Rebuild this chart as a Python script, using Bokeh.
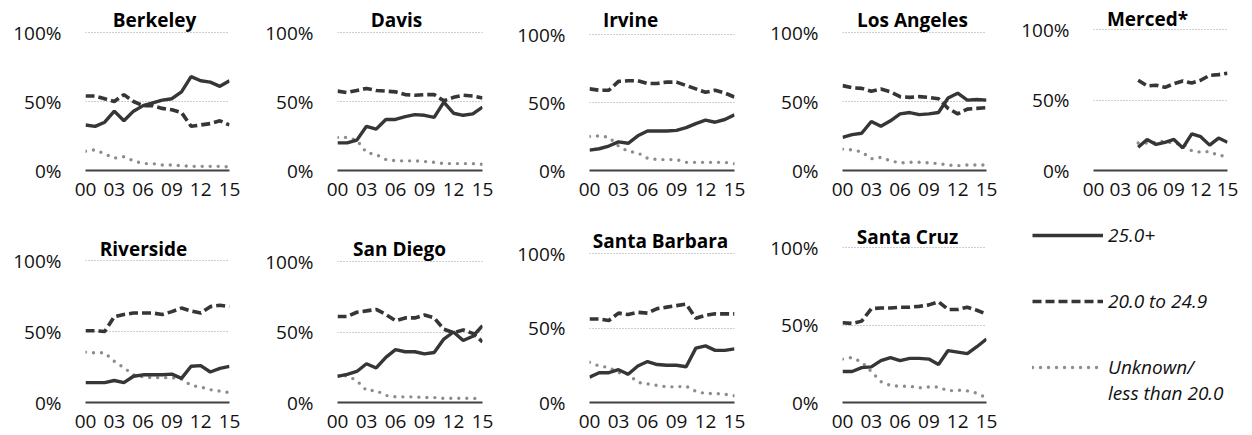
from bokeh.plotting import figure
from bokeh.layouts import row, column
from bokeh.models import Range1d, FixedTicker, PrintfTickFormatter, Label, Legend, LegendItem
from bokeh.embed import file_html
from bokeh.resources import INLINE

NaN = float("nan")

# ---------------- data ----------------
years = list(range(2000, 2016))
tick_years = [2000, 2003, 2006, 2009, 2012, 2015]
tick_labels = ["00", "03", "06", "09", "12", "15"]
series_names = ["25.0+", "20.0 to 24.9", "Unknown/", "less than 20.0"]
campuses = ["Berkeley", "Davis", "Irvine", "Los Angeles", "Merced*",
            "Riverside", "San Diego", "Santa Barbara", "Santa Cruz"]

berkeley_25 = [33, 32, 35, 43, 36, 43, 47, 49, 51, 52, 57, 68, 65, 64, 61, 65]
berkeley_20 = [54, 54, 52, 50, 55, 50, 47, 47, 45, 44, 42, 32, 33, 34, 36, 33]
berkeley_unk = [14, 15, 12, 9, 10, 7, 5, 5, 4, 4, 3.5, 3, 3, 3, 3, 2.5]

davis_25 = [20, 20, 22, 32, 30, 37, 37, 39, 40.5, 40, 38.5, 49.5, 41.5, 40, 41, 46]
davis_20 = [57.5, 56.5, 58, 59.5, 58, 57.5, 57, 55, 54.5, 55, 55, 50.5, 53, 54.5, 54, 52.5]
davis_unk = [24, 24, 22, 13, 11.5, 8, 7, 7, 7, 6.5, 6, 5, 5, 5, 5, 4.5]

irvine_25 = [15, 16, 18, 21, 20, 25.5, 29, 29, 29, 29.5, 31.5, 34.5, 37, 35.5, 37.5, 41]
irvine_20 = [60, 59, 59, 65.5, 66, 66, 64, 64, 65, 65, 62.5, 60, 57.5, 59, 57, 54]
irvine_unk = [25, 25.5, 24.5, 18, 14, 13, 9, 8, 8, 8, 6, 6, 6, 6, 6, 5]

la_25 = [24, 26, 27, 35.5, 32, 36, 41, 42, 40.5, 41, 42, 52.5, 56, 51, 51.5, 51]
la_20 = [61.5, 60, 59.5, 57.5, 59, 57, 53.5, 53, 53.5, 53, 52, 45, 41, 44.5, 45, 45.5]
la_unk = [15.5, 15, 13.5, 8.5, 9.5, 7, 5.5, 6, 6, 5.5, 5, 4, 3.5, 4, 4, 4]

merced_25 = [NaN, NaN, NaN, NaN, NaN, 16.5, 22, 18.5, 20, 22, 16, 26, 24, 18, 23, 20]
merced_20 = [NaN, NaN, NaN, NaN, NaN, 64, 60, 60.5, 59, 61.5, 63.5, 62, 64, 67.5, 68, 69]
merced_unk = [NaN, NaN, NaN, NaN, NaN, 19.5, 19.5, 20, 21, 19, 19, 14, 13, 13.5, 10.5, 10.5]

riverside_25 = [14, 14, 14, 15.5, 14, 18.5, 19.5, 19.5, 19.5, 20, 17, 25.5, 26, 21.5, 24, 25.5]
riverside_20 = [50.5, 50.5, 50, 60.5, 62, 63, 63, 63, 62, 64, 66.5, 64.5, 63, 67.5, 68.5, 67.5]
riverside_unk = [35.5, 35, 35, 29, 24.5, 19.5, 18, 17.5, 17.5, 17.5, 16.5, 12, 11, 9, 8, 7]

sandiego_25 = [18.5, 20, 22, 27.5, 24.5, 32, 37.5, 36, 36, 34.5, 35.5, 45, 50, 44, 47, 54.5]
sandiego_20 = [61, 61, 64, 65, 66, 62.5, 58, 60, 60, 62, 60, 52, 49.5, 51.5, 49, 43]
sandiego_unk = [19, 19, 15.5, 8.5, 8.5, 5, 4, 4, 4, 3.5, 3.5, 3, 3, 3, 3, 2.5]

santabarbara_25 = [17, 20, 20, 22, 19, 24.5, 27.5, 25.5, 25, 25, 24, 36.5, 38, 35, 35, 36]
santabarbara_20 = [56, 56, 55, 60, 59, 60.5, 60, 63, 64, 65, 66, 56.5, 58.5, 59.5, 59.5, 59.5]
santabarbara_unk = [27, 24.5, 23.5, 20, 19, 13.5, 12.5, 11.5, 10.5, 10.5, 11, 7.5, 6, 6, 5.5, 4.5]

santacruz_25 = [20, 20, 22.5, 23, 27, 29, 27, 28.5, 28.5, 28, 24.5, 33.5, 32.5, 31.5, 36, 41]
santacruz_20 = [51.5, 51, 52.5, 60.5, 61, 61, 61.5, 61.5, 62, 63, 65, 60, 60, 61.5, 59.5, 57]
santacruz_unk = [28, 29, 26, 20, 13.5, 11, 10.5, 10.5, 9.5, 10, 10, 7.5, 8, 7.5, 6, 3]

panel_data = [
    (berkeley_25, berkeley_20, berkeley_unk),
    (davis_25, davis_20, davis_unk),
    (irvine_25, irvine_20, irvine_unk),
    (la_25, la_20, la_unk),
    (merced_25, merced_20, merced_unk),
    (riverside_25, riverside_20, riverside_unk),
    (sandiego_25, sandiego_20, sandiego_unk),
    (santabarbara_25, santabarbara_20, santabarbara_unk),
    (santacruz_25, santacruz_20, santacruz_unk),
]

# ---------------- layout (page pixels) ----------------
COL_X = [0, 252, 504, 756, 1008]
COL_W = [252, 252, 252, 252, 244]
COL_FRAME_L = [85, 337, 589, 842, 1093]
COL_FRAME_R = [229, 482, 734, 986, 1227]
ROW_Y = [0, 215]
ROW_H = [215, 220]
ROW_FRAME_TOP = [2, 222]
ROW_FRAME_BOTTOM = [170, 402]
# per panel: y of the 100% line, title centre y, title centre x
PANEL_POS = [
    (32, 19, 154), (32, 19, 396), (34, 19, 630), (32, 19, 912), (29, 18, 1147),
    (260, 248, 143), (261, 248, 399), (253, 240, 660), (247, 236, 907),
]

FONT = "Open Sans"
DARK = "#363636"
GREY = "#8c8c8c"
SOLID = dict(line_color=DARK, line_width=3.4)
DASHED = dict(line_color=DARK, line_width=3.6, line_dash="9 4")
DOTTED = dict(line_color=GREY, line_width=3.4, line_dash="0 8", line_cap="round")


def make_panel(i):
    r, c = divmod(i, 5)
    P100, Ty, Tx = PANEL_POS[i]
    L, R = COL_FRAME_L[c], COL_FRAME_R[c]
    fx, fw, fy, fh = COL_X[c], COL_W[c], ROW_Y[r], ROW_H[r]
    ftop, P0 = ROW_FRAME_TOP[r], ROW_FRAME_BOTTOM[r]
    y_end = 100.0 * (P0 - ftop) / (P0 - P100)
    p = figure(width=fw, height=fh,
               x_range=Range1d(years[0], years[-1]), y_range=Range1d(0, y_end),
               min_border_left=L - fx, min_border_right=fx + fw - R,
               min_border_top=ftop - fy, min_border_bottom=fy + fh - P0,
               output_backend="svg", toolbar_location=None,
               outline_line_color=None, background_fill_color=None,
               border_fill_color=None)
    s25, s20, sunk = panel_data[i]
    p.line(years, sunk, **DOTTED)
    p.line(years, s20, **DASHED)
    p.line(years, s25, **SOLID)

    # y axis
    ya = p.yaxis[0]
    ya.ticker = FixedTicker(ticks=[0, 50, 100])
    ya.formatter = PrintfTickFormatter(format="%d%%")
    ya.axis_line_color = None
    ya.major_tick_line_color = None
    ya.minor_tick_line_color = None
    ya.major_tick_out = 0
    ya.major_tick_in = 0
    ya.major_label_standoff = 24
    ya.major_label_text_font = FONT
    ya.major_label_text_font_size = "19px"
    ya.major_label_text_color = "#111111"

    # x axis
    xa = p.xaxis[0]
    xa.ticker = FixedTicker(ticks=tick_years)
    xa.major_label_overrides = {y: t for y, t in zip(tick_years, tick_labels)}
    xa.axis_line_color = "#404040"
    xa.axis_line_width = 2
    xa.major_tick_line_color = None
    xa.minor_tick_line_color = None
    xa.major_tick_out = 0
    xa.major_tick_in = 0
    xa.major_label_standoff = 12
    xa.major_label_text_font = FONT
    xa.major_label_text_font_size = "19px"
    xa.major_label_text_color = "#111111"

    p.xgrid.visible = False
    p.ygrid.ticker = FixedTicker(ticks=[50, 100])
    p.ygrid.grid_line_color = "#9a9a9a"
    p.ygrid.grid_line_dash = "1 2"
    p.ygrid.grid_line_width = 1

    tx = years[0] + (Tx - L) / (R - L) * (years[-1] - years[0])
    ty = 100.0 * (P0 - Ty) / (P0 - P100)
    p.add_layout(Label(x=tx, y=ty, text=campuses[i], text_align="center",
                       text_baseline="middle", text_font=FONT, text_font_style="bold",
                       text_font_size="19px", text_color="#000000"))
    return p


panels = [make_panel(i) for i in range(9)]

# legend panel: sample lines reuse a series but sit outside the visible range;
# blank spacer rows keep the item rows on a grid anchored at the top
lg = figure(width=COL_W[4], height=ROW_H[1], x_range=Range1d(0, 1), y_range=Range1d(0, 1),
            min_border_left=24, min_border_top=ROW_FRAME_TOP[1] - ROW_Y[1],
            min_border_right=0, min_border_bottom=0,
            output_backend="svg", toolbar_location=None, outline_line_color=None,
            background_fill_color=None, border_fill_color=None)
lg.axis.visible = False
lg.grid.visible = False
r1 = lg.line(years, santacruz_25, **SOLID)
r2 = lg.line(years, santacruz_20, **DASHED)
r3 = lg.line(years, santacruz_unk, **DOTTED)
rs = lg.line(years, santacruz_unk, line_alpha=0)
items = [
    LegendItem(label=series_names[0], renderers=[r1]),
    LegendItem(label=" ", renderers=[rs]),
    LegendItem(label=" ", renderers=[rs]),
    LegendItem(label=series_names[1], renderers=[r2]),
    LegendItem(label=" ", renderers=[rs]),
    LegendItem(label=" ", renderers=[rs]),
    LegendItem(label=series_names[2], renderers=[r3]),
    LegendItem(label=series_names[3], renderers=[rs]),
]
legend = Legend(items=items, location="top_left", glyph_width=71, glyph_height=20,
                label_height=20, label_standoff=5, spacing=0, padding=0, margin=0,
                border_line_color=None, background_fill_alpha=0,
                label_text_font=FONT, label_text_font_style="italic",
                label_text_font_size="19px", label_text_color="#111111")
lg.add_layout(legend)

layout = column(row(*panels[:5]), row(*panels[5:], lg))
open("out.html", "w").write(file_html(layout, INLINE))
